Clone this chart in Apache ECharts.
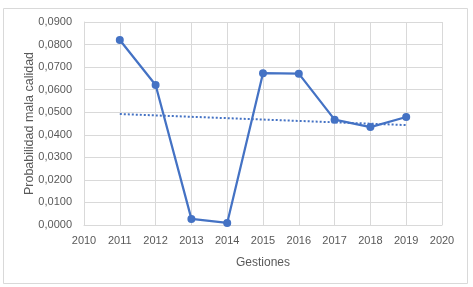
<!DOCTYPE html>
<html><head><meta charset="utf-8">
<script src="https://cdn.jsdelivr.net/npm/echarts@6/dist/echarts.min.js"></script>
<style>html,body{margin:0;padding:0;background:#fff}#c{width:473px;height:287px}</style>
</head><body><div id="c"></div>
<script>
const years = [2011, 2012, 2013, 2014, 2015, 2016, 2017, 2018, 2019];
const probValues = [0.0820, 0.0621, 0.0027, 0.0009, 0.0673, 0.0671, 0.0467, 0.0434, 0.0479];
const trendYears = [2011, 2019];
const trendValues = [0.0492, 0.0443];
const xTicks = [2010, 2020];
const yTicks = [0, 0.09];

const chart = echarts.init(document.getElementById('c'), null, {renderer: 'canvas'});
const font = 'Liberation Sans';
chart.setOption({
  animation: false,
  backgroundColor: '#fff',
  graphic: [{
    type: 'rect', shape: {x: 3.5, y: 8.5, width: 464, height: 275},
    style: {fill: 'none', stroke: '#d9d9d9', lineWidth: 1}, silent: true
  }],
  grid: {left: 84, right: 31, top: 22, bottom: 62},
  xAxis: {
    type: 'value', min: xTicks[0], max: xTicks[1], interval: 1,
    name: 'Gestiones', nameLocation: 'middle', nameGap: 32, nameMoveOverlap: false,
    nameTextStyle: {color: '#595959', fontFamily: font, fontSize: 12},
    axisLine: {show: true, lineStyle: {color: '#d9d9d9', width: 1}},
    axisTick: {show: false},
    axisLabel: {color: '#595959', fontFamily: font, fontSize: 11, margin: 10, formatter: v => String(v)},
    splitLine: {show: true, lineStyle: {color: '#d9d9d9', width: 1}}
  },
  yAxis: {
    type: 'value', min: yTicks[0], max: yTicks[1], interval: 0.01,
    name: 'Probabilidad mala calidad', nameLocation: 'middle', nameGap: 48, nameMoveOverlap: false,
    nameTextStyle: {color: '#595959', fontFamily: font, fontSize: 12.5},
    axisLine: {show: true, lineStyle: {color: '#d9d9d9', width: 1}},
    axisTick: {show: false},
    axisLabel: {color: '#595959', fontFamily: font, fontSize: 11, margin: 12,
      formatter: v => v.toFixed(4).replace('.', ',')},
    splitLine: {show: true, lineStyle: {color: '#d9d9d9', width: 1}}
  },
  series: [
    {
      type: 'line', data: trendYears.map((y, i) => [y, trendValues[i]]),
      symbol: 'none', lineStyle: {color: '#4472C4', width: 2, type: [2, 2]}, z: 2
    },
    {
      type: 'line', data: years.map((y, i) => [y, probValues[i]]),
      symbol: 'circle', symbolSize: 8,
      itemStyle: {color: '#4472C4'},
      lineStyle: {color: '#4472C4', width: 2.25}, z: 3
    }
  ]
});
</script></body></html>
